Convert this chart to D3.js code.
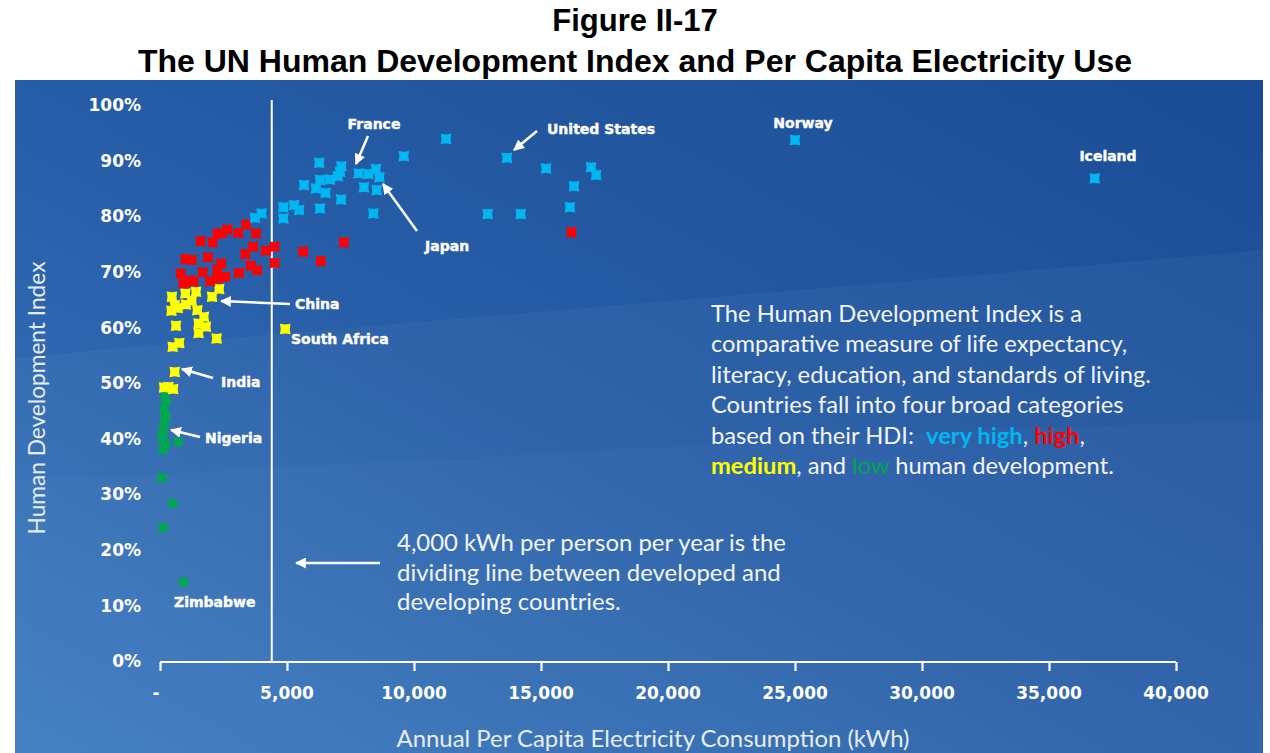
<!DOCTYPE html>
<html><head><meta charset="utf-8">
<script src="https://cdn.jsdelivr.net/npm/d3@7/dist/d3.min.js"></script>
<style>
html,body{margin:0;padding:0;background:#fff;}
svg{display:block;}
</style></head>
<body>
<svg id="chart" width="1270" height="753"></svg>
<script>
// ---------------- DATA ----------------
const xTicks = [0, 5000, 10000, 15000, 20000, 25000, 30000, 35000, 40000];
const xTickLabels = ["-", "5,000", "10,000", "15,000", "20,000", "25,000", "30,000", "35,000", "40,000"];
const yTicks = [0, 10, 20, 30, 40, 50, 60, 70, 80, 90, 100];
const yTickLabels = ["0%", "10%", "20%", "30%", "40%", "50%", "60%", "70%", "80%", "90%", "100%"];

// [kWh per capita, HDI %]
const veryHigh = [
  [11260,93.9],[9600,90.8],[13660,90.5],[15200,88.6],[16970,88.8],[17170,87.4],[16300,85.4],
  [16140,81.6],[12900,80.4],[14200,80.4],[25000,93.7],[36800,86.8],
  [6270,89.6],[7140,89.0],[7090,88.0],[7820,87.7],[8200,87.6],[8500,88.5],[8640,87.0],
  [7000,87.2],[6690,86.6],[6300,86.5],[5670,85.6],[6140,85.0],[6520,84.2],[8030,85.2],
  [8530,84.7],[7130,83.0],[4860,81.6],[5280,82.0],[5480,81.1],[6300,81.4],[4860,79.6],
  [8400,80.5],[3740,79.7],[4000,80.5]
];
const high = [
  [1600,75.5],[2070,75.3],[2260,76.8],[2440,77.0],[2650,77.6],[3080,77.0],[3390,78.5],
  [3780,76.9],[3670,74.5],[3360,73.2],[4170,73.8],[4510,74.5],[4510,71.6],[3570,71.1],
  [3830,70.3],[3100,69.8],[2570,69.1],[2410,71.5],[2260,70.4],[1970,68.3],[1680,69.9],
  [1890,72.6],[1000,72.3],[1260,72.1],[810,69.7],[1150,68.5],[920,67.9],[2260,68.8],
  [1310,68.2],[5640,73.6],[6330,71.9],[7240,75.3],[16200,77.1]
];
const medium = [
  [470,65.5],[580,64.0],[1000,66.1],[1020,64.1],[1420,66.4],[1470,63.1],[1730,61.9],
  [1520,60.7],[1810,60.1],[1520,59.0],[2050,65.5],[2330,66.9],[2230,58.0],[630,60.3],
  [760,57.2],[500,56.5],[580,52.0],[4930,59.7],[160,49.2],[520,48.9],[330,49.3],
  [700,63.5],[450,63.0],[1250,64.8]
];
const low = [
  [240,46.8],[160,45.3],[240,44.1],[160,42.6],[80,40.5],[130,41.4],[720,39.4],[130,38.0],
  [80,33.0],[500,28.4],[130,24.0],[920,14.2],[200,47.5],[180,43.5],[100,40.0],[220,39.0]
];
const dividerKwh = 4400;

// ---------------- LAYOUT ----------------
const svg = d3.select("#chart");
const x = d3.scaleLinear().domain([0, 40000]).range([160, 1176]);
const y = d3.scaleLinear().domain([0, 100]).range([661, 105]);

const defs = svg.append("defs");
const bg = defs.append("linearGradient").attr("id","bg")
  .attr("x1","0").attr("y1","1").attr("x2","1").attr("y2","0");
bg.append("stop").attr("offset","0%").attr("stop-color","#3b79c2");
bg.append("stop").attr("offset","45%").attr("stop-color","#285fa8");
bg.append("stop").attr("offset","100%").attr("stop-color","#1a4c95");

defs.append("marker").attr("id","arrow")
  .attr("viewBox","0 0 10 10").attr("refX",9).attr("refY",5)
  .attr("markerWidth",11).attr("markerHeight",11)
  .attr("markerUnits","userSpaceOnUse").attr("orient","auto")
  .append("path").attr("d","M0,0 L10,5 L0,10 Z").attr("fill","#fff");

// title
svg.append("text").attr("x",635).attr("y",31).attr("text-anchor","middle")
  .attr("font-family","Liberation Sans, Arial, sans-serif").attr("font-weight","bold")
  .attr("font-size",31).attr("fill","#000").text("Figure II-17");
svg.append("text").attr("x",635).attr("y",72).attr("text-anchor","middle")
  .attr("font-family","Liberation Sans, Arial, sans-serif").attr("font-weight","bold")
  .attr("font-size",32).attr("fill","#000")
  .text("The UN Human Development Index and Per Capita Electricity Use");

// background panel
svg.append("rect").attr("x",15).attr("y",80).attr("width",1248).attr("height",673)
  .attr("fill","url(#bg)");
// subtle light bands
svg.append("path").attr("d","M15,358 C300,330 700,300 1263,250 L1263,753 L15,753 Z")
  .attr("fill","#ffffff").attr("opacity",0.035);
svg.append("path").attr("d","M15,480 C300,470 700,440 1263,420 L1263,753 L15,753 Z")
  .attr("fill","#ffffff").attr("opacity",0.025);

// x axis
const xAxis = d3.axisBottom(x).tickValues(xTicks).tickSize(9).tickFormat("");
const gx = svg.append("g").attr("transform","translate(0,662)").call(xAxis);
gx.select(".domain").attr("stroke","#fff").attr("stroke-width",2.2).attr("d","M160,0H1176");
gx.selectAll(".tick line").attr("stroke","#fff").attr("stroke-width",2.2);
svg.append("g").selectAll("text").data(xTicks).join("text")
  .attr("x",(d,i)=> i===0 ? x(d)-4 : x(d)).attr("y",699).attr("text-anchor","middle")
  .attr("font-family","DejaVu Sans, sans-serif").attr("font-weight","bold").attr("font-size",17)
  .attr("fill","#fff").text((d,i)=>xTickLabels[i]);

// y tick labels (no axis line)
svg.append("g").selectAll("text").data(yTicks).join("text")
  .attr("x",141).attr("y",d=>y(d)).attr("dy","0.36em").attr("text-anchor","end")
  .attr("font-family","DejaVu Sans, sans-serif").attr("font-weight","bold").attr("font-size",17)
  .attr("fill","#fff").text((d,i)=>yTickLabels[i]);

// axis titles
const bodyFont = "Lato, 'Open Sans', sans-serif";
function fit(sel, target){
  const n = sel.node(); const fs = +sel.attr("font-size");
  const w = n.getComputedTextLength();
  sel.attr("font-size", (fs*target/w).toFixed(2));
}
const xt = svg.append("text").attr("x",653).attr("y",747).attr("text-anchor","middle")
  .attr("font-family",bodyFont).attr("font-size",20).attr("fill","#e6edf6")
  .text("Annual Per Capita Electricity Consumption (kWh)");
fit(xt, 513);
const yt = svg.append("text").attr("transform","translate(45,398) rotate(-90)").attr("text-anchor","middle")
  .attr("font-family",bodyFont).attr("font-size",20).attr("fill","#e6edf6")
  .text("Human Development Index");
fit(yt, 273);

// divider line
svg.append("line").attr("x1",x(dividerKwh)).attr("x2",x(dividerKwh)).attr("y1",100).attr("y2",662)
  .attr("stroke","#fff").attr("stroke-width",2);

// markers
function notched(s){
  const h=s/2, k=0.8;
  return `M${-h},${-h} L0,${-h+k} L${h},${-h} L${h-k},0 L${h},${h} L0,${h-k} L${-h},${h} L${-h+k},0 Z`;
}
const groups = [
  {data: low, color:"#00a651", shape:"square", size:9},
  {data: medium, color:"#ffff00", shape:"notched", size:10.5},
  {data: high, color:"#ff0000", shape:"notched", size:10.5},
  {data: veryHigh, color:"#00b7f1", shape:"notched", size:10.5}
];
groups.forEach(g=>{
  svg.append("g").selectAll("path").data(g.data).join("path")
    .attr("transform",d=>`translate(${x(d[0])},${y(d[1])})`)
    .attr("d", g.shape==="square" ? `M-4.5,-4.5h9v9h-9Z` : notched(g.size))
    .attr("fill", g.color);
});

// country labels
const labelFont = "DejaVu Sans, sans-serif";
const labels = [
  {t:"France", x:374, y:129, a:"middle"},
  {t:"United States", x:547, y:134, a:"start"},
  {t:"Japan", x:425, y:251, a:"start"},
  {t:"Norway", x:803, y:128, a:"middle"},
  {t:"Iceland", x:1108, y:161, a:"middle"},
  {t:"China", x:295, y:309, a:"start"},
  {t:"South Africa", x:291, y:344, a:"start"},
  {t:"India", x:221, y:387, a:"start"},
  {t:"Nigeria", x:205, y:443, a:"start"},
  {t:"Zimbabwe", x:174, y:607, a:"start"}
];
svg.append("g").selectAll("text").data(labels).join("text")
  .attr("x",d=>d.x).attr("y",d=>d.y).attr("text-anchor",d=>d.a)
  .attr("font-family",labelFont).attr("font-weight","bold").attr("font-size",14)
  .attr("fill","#fff").attr("stroke","#fff").attr("stroke-width",0.4).text(d=>d.t);

const arrows = [
  [368,136,356,164],[537,131,514,150],[417,231,383,184],[290,304,221,301],
  [213,378,182,369],[200,437,171,430],[380,563,296,563]
];
svg.append("g").selectAll("line").data(arrows).join("line")
  .attr("x1",d=>d[0]).attr("y1",d=>d[1]).attr("x2",d=>d[2]).attr("y2",d=>d[3])
  .attr("stroke","#fff").attr("stroke-width",2.5).attr("marker-end","url(#arrow)");

// right text block
const rb = svg.append("text").attr("font-family",bodyFont).attr("font-size",20).attr("fill","#f2f5fa");
const rLines = [
  [["The Human Development Index is a",null,false]],
  [["comparative measure of life expectancy,",null,false]],
  [["literacy, education, and standards of living.",null,false]],
  [["Countries fall into four broad categories",null,false]],
  [["based on their HDI:\u00a0 ",null,false],["very high","#00b7f1",true],[", ",null,false],["high","#ff0000",true],[",",null,false]],
  [["medium","#ffff00",true],[", and ",null,false],["low","#00a651",false],[" human development.",null,false]]
];
const rBase = [322, 352, 383, 413, 444, 474];
rLines.forEach((ln,i)=>{
  ln.forEach((seg,j)=>{
    const ts = rb.append("tspan").text(seg[0]);
    if(j===0) ts.attr("x",711).attr("y",rBase[i]);
    if(seg[1]) ts.attr("fill",seg[1]);
    if(seg[2]) ts.attr("font-weight","bold");
  });
});
{
  const probe = svg.append("text").attr("font-family",bodyFont).attr("font-size",20).text(rLines[0][0][0]);
  const f = 20*371/probe.node().getComputedTextLength();
  probe.remove();
  rb.attr("font-size",f.toFixed(2));
}

// bottom text block
const bb = svg.append("text").attr("font-family",bodyFont).attr("font-size",20).attr("fill","#f2f5fa");
const bLines = ["4,000 kWh per person per year is the","dividing line between developed and","developing countries."];
const bBase = [551, 581, 610];
bLines.forEach((t,i)=> bb.append("tspan").attr("x",397).attr("y",bBase[i]).text(t));
{
  const probe = svg.append("text").attr("font-family",bodyFont).attr("font-size",20).text(bLines[0]);
  const f = 20*389/probe.node().getComputedTextLength();
  probe.remove();
  bb.attr("font-size",f.toFixed(2));
}
</script>
</body></html>
